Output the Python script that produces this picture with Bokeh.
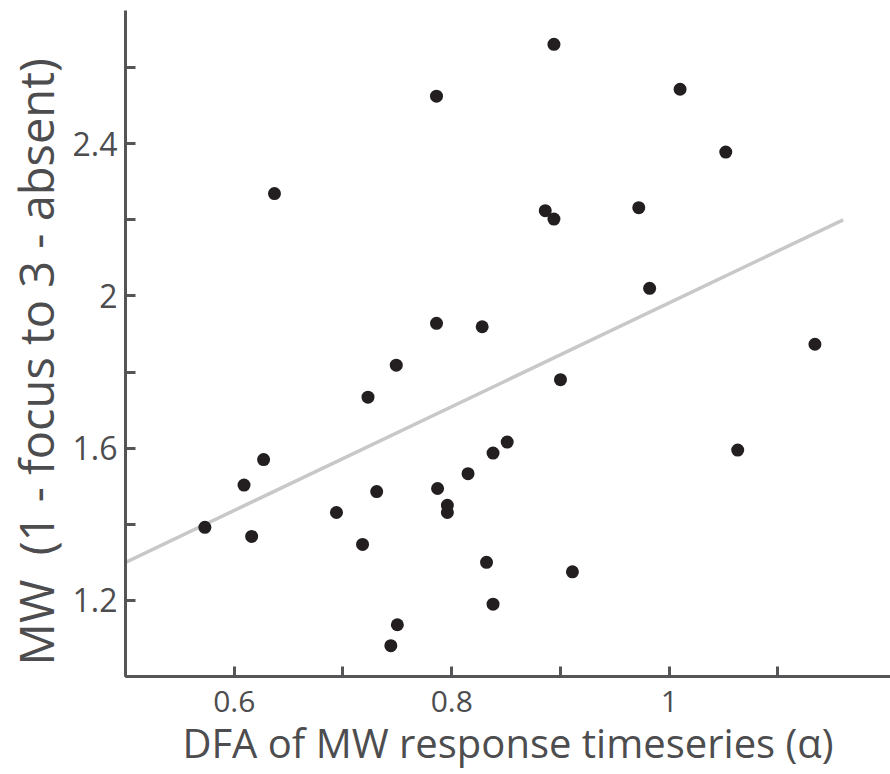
from bokeh.plotting import figure
from bokeh.models import Range1d, FixedTicker
from bokeh.embed import file_html
from bokeh.resources import INLINE

# Data
dfa_alpha = [0.894, 0.786, 1.010, 1.052, 0.637, 0.886, 0.894, 0.972, 0.982,
             0.786, 0.828, 0.749, 0.900, 1.134, 0.723, 0.851, 0.838, 1.063,
             0.627, 0.609, 0.573, 0.616, 0.694, 0.731, 0.718, 0.787, 0.796,
             0.796, 0.815, 0.832, 0.750, 0.744, 0.911, 0.838]
mw_score = [2.661, 2.525, 2.543, 2.378, 2.269, 2.224, 2.202, 2.232, 2.020,
            1.928, 1.919, 1.818, 1.780, 1.873, 1.734, 1.616, 1.587, 1.595,
            1.570, 1.503, 1.392, 1.368, 1.431, 1.486, 1.347, 1.494, 1.450,
            1.431, 1.533, 1.300, 1.136, 1.081, 1.275, 1.190]

fit_x = [0.5, 1.16]
fit_y = [1.30, 2.20]

x_major = [0.6, 0.8, 1.0]
x_minor = [0.5, 0.7, 0.9, 1.1]
y_major = [1.2, 1.6, 2.0, 2.4]
y_minor = [1.0, 1.4, 1.8, 2.2, 2.6]

x_title = "DFA of MW response timeseries (\u03b1)"
y_title = "MW\u00a0 (1 - focus to 3 - absent)\u00a0\u00a0\u00a0"

FONT = "Open Sans"
AXIS_COL = "#555557"
TEXT_COL = "#4d4d4f"

p = figure(frame_width=765, frame_height=666,
           x_range=Range1d(0.5, 1.2035), y_range=Range1d(1.0, 2.75),
           output_backend="svg", toolbar_location=None,
           min_border_left=120, min_border_right=0, min_border_top=10,
           min_border_bottom=90)

p.outline_line_color = None
p.xgrid.visible = False
p.ygrid.visible = False
p.background_fill_color = "white"
p.border_fill_color = "white"

p.line(fit_x, fit_y, line_color="#c8c8c8", line_width=3.5)
p.scatter(dfa_alpha, mw_score, size=13, fill_color="#231f20", line_color=None)

for ax in (p.xaxis[0], p.yaxis[0]):
    ax.axis_line_color = AXIS_COL
    ax.axis_line_width = 3
    ax.major_tick_line_color = AXIS_COL
    ax.minor_tick_line_color = AXIS_COL
    ax.major_tick_line_width = 3
    ax.minor_tick_line_width = 3
    ax.major_tick_in = 10
    ax.major_tick_out = 0
    ax.minor_tick_in = 10
    ax.minor_tick_out = 0
    ax.major_label_text_font = FONT
    ax.major_label_text_color = TEXT_COL
    ax.axis_label_text_font = FONT
    ax.axis_label_text_color = TEXT_COL
    ax.axis_label_text_font_style = "normal"

p.xaxis[0].major_label_text_font_size = "30px"
p.yaxis[0].major_label_text_font_size = "32px"
p.xaxis[0].axis_label_text_font_size = "40px"
p.yaxis[0].axis_label_text_font_size = "47px"
p.xaxis[0].ticker = FixedTicker(ticks=x_major, minor_ticks=x_minor)
p.yaxis[0].ticker = FixedTicker(ticks=y_major, minor_ticks=y_minor)
p.xaxis[0].major_label_overrides = {1.0: "1"}
p.yaxis[0].major_label_overrides = {2.0: "2"}
p.xaxis[0].axis_label = x_title
p.yaxis[0].axis_label = y_title
p.xaxis[0].major_label_standoff = 14
p.yaxis[0].major_label_standoff = 8
p.xaxis[0].axis_label_standoff = 0
p.yaxis[0].axis_label_standoff = 2

open("out.html", "w").write(file_html(p, INLINE))
